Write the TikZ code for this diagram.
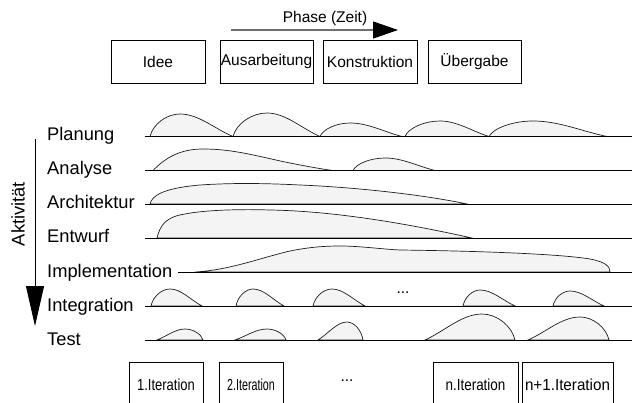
\documentclass[tikz,border=0pt]{standalone}
\usepackage{fontspec}
\setmainfont{Liberation Sans}
\usetikzlibrary{arrows.meta}

\definecolor{humpfill}{HTML}{F4F4F4}
\definecolor{humpline}{HTML}{1E1E1E}
\definecolor{phasegray}{HTML}{707070}

% dome rising steeply on the left: x0, x-peak, y-peak, x1, baseline
\newcommand\domeL[5]{%
  \filldraw[hump] (#1,#5)
    .. controls ({#1+0.1*(#2-#1)},{#3+0.45*(#5-#3)}) and ({#2-0.45*(#2-#1)},#3) .. (#2,#3)
    .. controls ({#2+0.35*(#4-#2)},#3) and ({#4-0.35*(#4-#2)},{#5-0.35*(#5-#3)}) .. (#4,#5) -- cycle;}
% dome falling steeply on the right
\newcommand\domeR[5]{%
  \filldraw[hump] (#1,#5)
    .. controls ({#1+0.35*(#2-#1)},{#5-0.35*(#5-#3)}) and ({#2-0.35*(#2-#1)},#3) .. (#2,#3)
    .. controls ({#2+0.45*(#4-#2)},#3) and ({#4-0.1*(#4-#2)},{#3+0.45*(#5-#3)}) .. (#4,#5) -- cycle;}

\tikzset{
  hump/.style={fill=humpfill, draw=humpline, line width=0.7pt},
  baseline/.style={draw=black, line width=0.8pt},
  phasebox/.style={draw=black, line width=0.8pt, minimum height=42.5pt, inner sep=0pt,
                   font=\fontsize{15.5}{17}\selectfont},
  iterbox/.style={draw=black, line width=0.8pt, minimum height=46pt, inner sep=0pt,
                  font=\fontsize{16}{18}\selectfont},
  rowlabel/.style={anchor=base west, inner sep=0pt, font=\fontsize{18.3}{20}\selectfont},
}

\begin{document}
\begin{tikzpicture}[x=1pt, y=-1pt]
\useasboundingbox (0,0) rectangle (634,403);
\clip (0,0) rectangle (634,403);

% time axis
\coordinate (phaseS) at (231,30);
\coordinate (phaseE) at (398,30);
\draw[phasegray, line width=1.2pt, -{Triangle[length=25pt, width=17pt, color=black]}] (phaseS) -- (phaseE);
\node[font=\fontsize{15.5}{17}\selectfont, inner sep=0pt] (phaselbl) at (325,18) {Phase (Zeit)};

% phases
\node[phasebox, minimum width=94pt] (idee) at (158,61.75) {Idee};
\node[phasebox, minimum width=93pt] (ausarb) at (266.5,61.75) {Ausarbeitung};
\node[phasebox, minimum width=94pt] (konstr) at (370,61.75) {Konstruktion};
\node[phasebox, minimum width=93pt] (uebergabe) at (474.5,61.75) {Übergabe};

% activity axis
\coordinate (aktS) at (35,139);
\coordinate (aktE) at (35,326);
\draw[line width=0.8pt, -{Triangle[length=40pt, width=18pt]}] (aktS) -- (aktE);
\node[rotate=90, font=\fontsize{18.3}{20}\selectfont, inner sep=0pt] (aktlbl) at (18,214) {Aktivität};

% row labels
\node[rowlabel] (planung) at (47,141) {Planung};
\node[rowlabel] (analyse) at (47,175) {Analyse};
\node[rowlabel] (architektur) at (47,209) {Architektur};
\node[rowlabel] (entwurf) at (47,243) {Entwurf};
\node[rowlabel] (implementation) at (47,277) {Implementation};
\node[rowlabel] (integration) at (47,311) {Integration};
\node[rowlabel] (test) at (47,345) {Test};

% Planung
\domeL{150}{180}{114}{233}{136.5}
\domeL{233}{267}{113}{320}{136.5}
\domeL{320}{350}{123}{402}{136.5}
\domeL{405}{440}{121}{489}{136.5}
\domeL{489}{533}{121}{607}{136.5}

% Analyse
\filldraw[hump] (153,170.5) .. controls (165,158) and (180,149) .. (203,149)
  .. controls (235,149) and (260,157) .. (290,163)
  .. controls (310,167) and (325,169.5) .. (333,170.5) -- cycle;
\domeL{353}{385}{158}{435}{170.5}

% Architektur
\filldraw[hump] (150,204) .. controls (152,195) and (165,188) .. (200,185)
  .. controls (230,183) and (260,183) .. (300,185)
  .. controls (350,187) and (420,194) .. (467,204) -- cycle;

% Entwurf
\filldraw[hump] (157,238) .. controls (160,226) and (165,217) .. (185,214)
  .. controls (205,210) and (240,209) .. (270,210)
  .. controls (330,211) and (400,222) .. (472,238) -- cycle;

% Implementation
\filldraw[hump] (195,272) .. controls (230,270) and (260,258) .. (290,251)
  .. controls (310,247) and (325,246) .. (340,246)
  .. controls (360,246) and (380,249) .. (400,250)
  .. controls (480,251) and (560,254) .. (590,259)
  .. controls (605,262) and (610,266) .. (610,272) -- cycle;

% Integration
\domeL{151}{170}{289}{202}{306}
\domeL{236}{253}{289}{284}{306}
\domeL{313}{332}{289}{365}{306}
\domeL{463}{480}{290}{515}{306}
\domeL{553}{570}{291}{604}{306}
\node[font=\fontsize{15.5}{17}\selectfont, inner sep=0pt] (intdots) at (403,293) {...};

% Test
\domeR{157}{185}{329}{203}{340}
\domeR{235}{267}{329}{286}{340}
\domeR{318}{347}{322}{363}{340}
\domeR{425}{482}{314}{515}{340}
\domeR{528}{580}{317}{609}{340}

% base lines
\foreach \y/\n in {136.5/pl, 170.5/an, 204/ar, 238/en, 306/in, 340/te} {
  \coordinate (\n S) at (145,\y);
  \coordinate (\n E) at (632,\y);
  \draw[baseline] (\n S) -- (\n E);
}
\coordinate (imS) at (178,272);
\coordinate (imE) at (632,272);
\draw[baseline] (imS) -- (imE);

% iterations
\node[iterbox, minimum width=74pt] (it1) at (166,385) {\scalebox{0.81}[1]{1.Iteration}};
\node[iterbox, minimum width=64pt] (it2) at (251,385) {\scalebox{0.67}[1]{2.Iteration}};
\node[font=\fontsize{15.5}{17}\selectfont, inner sep=0pt] (itdots) at (347,381) {...};
\node[iterbox, minimum width=85pt] (itn) at (475.5,385) {\scalebox{0.84}[1]{n.Iteration}};
\node[iterbox, minimum width=91pt] (itn1) at (567.5,385) {\scalebox{0.95}[1]{n+1.Iteration}};
\end{tikzpicture}
\end{document}
